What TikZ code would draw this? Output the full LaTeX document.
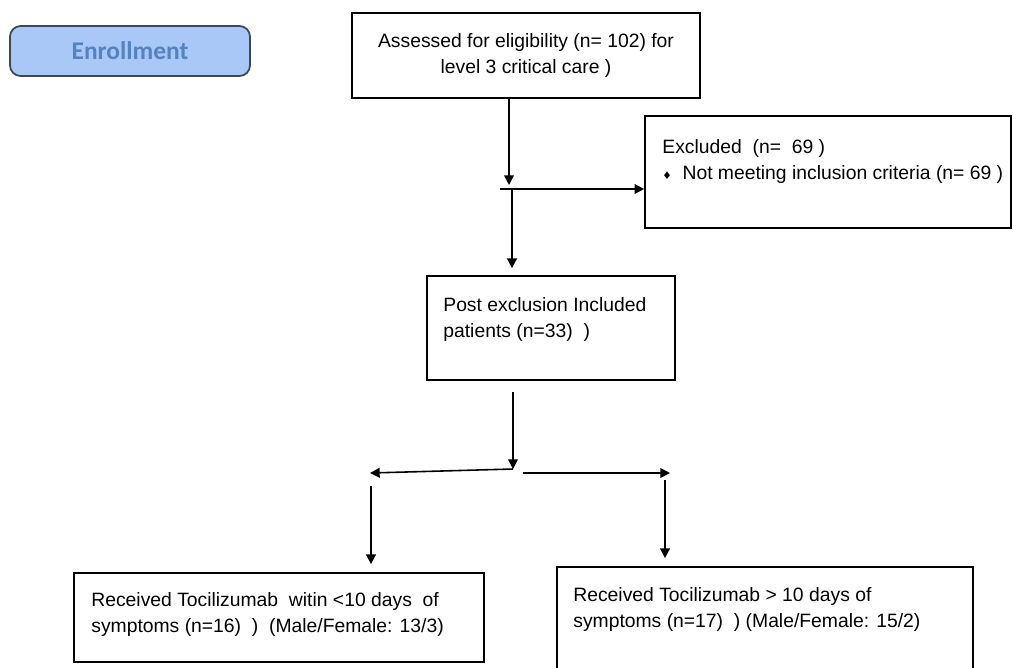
\documentclass[tikz,border=0pt]{standalone}
\usepackage{fontspec}
\setmainfont{Liberation Sans}
\newfontfamily\calfont{Carlito}
\newfontfamily\symfont{DejaVu Sans}
\usepackage{xcolor}
\usetikzlibrary{arrows.meta, positioning}

\definecolor{enrfill}{HTML}{A9C8F8}
\definecolor{enrtext}{HTML}{5583C0}
\definecolor{enrline}{HTML}{3E4650}

\begin{document}
\begin{tikzpicture}[x=0.02cm, y=-0.02cm, >={Triangle[length=5.5pt, width=5.5pt]},
    font=\fontsize{11}{14.8}\selectfont,
    box/.style={draw, line width=1pt, inner sep=0pt},
    boxtext/.style={anchor=north west, align=left, inner sep=0pt},
    flow/.style={->, line width=0.9pt}]

\useasboundingbox (0,0) rectangle (1013,667);

% ── Stage label ─────────────────────────────────────────────────
\node[box, rounded corners=6pt, fill=enrfill, draw=enrline, text=enrtext,
    minimum width=4.8cm, minimum height=1cm,
    font=\calfont\bfseries\fontsize{14.5}{16}\selectfont] (enrol) at (130, 51) {Enrollment};

% ── Boxes ───────────────────────────────────────────────────────
\node[box, minimum width=6.96cm, minimum height=1.7cm, align=center] (assess) at (526, 55.5)
    {Assessed for eligibility (n= 102) for\\level 3 critical care )};

\node[box, minimum width=7.32cm, minimum height=2.24cm] (excl) at (828, 172) {};
\node[boxtext] (excltext) at (662, 139)
    {Excluded\ \ (n=\ \ 69 )\\
    {\symfont\fontsize{6}{7}\selectfont ♦}\ \ Not meeting inclusion criteria (n= 69 )};

\node[box, minimum width=4.96cm, minimum height=2.08cm] (post) at (551, 328) {};
\node[boxtext] (posttext) at (443, 297)
    {Post exclusion Included\\patients (n=33)\ \ )};

\node[box, minimum width=8.2cm, minimum height=1.78cm] (early) at (279, 617.5) {};
\node[boxtext] (earlytext) at (91, 592)
    {Received Tocilizumab\ \ witin <10 days\ \ of\\
    symptoms (n=16)\ \ )\ \ (Male/Female: 13/3)};

\node[box, minimum width=8.32cm, minimum height=2.2cm] (late) at (765, 622) {};
\node[boxtext] (latetext) at (573, 587)
    {Received Tocilizumab > 10 days of\\
    symptoms (n=17)\ \ ) (Male/Female: 15/2)};

% ── Connectors ──────────────────────────────────────────────────
\coordinate (down1) at (509, 185);
\coordinate (split) at (500, 189);
\coordinate (down2) at (512, 189);
\coordinate (fork) at (513, 469);
\coordinate (leftend) at (370, 473);
\coordinate (rightstart) at (523, 473);
\coordinate (rightend) at (670, 473);
\coordinate (leftdown) at (371, 486);
\coordinate (rightdown) at (665, 480);

\draw[flow] (down1 |- assess.south) -- (down1);
\draw[flow] (split) -- (split -| excl.west);
\draw[flow, shorten >=0.14cm] (down2) -- (down2 |- post.north);
\draw[flow, shorten <=0.22cm] (fork |- post.south) -- (fork);
\draw[flow] (fork) -- (leftend);
\draw[flow] (rightstart) -- (rightend);
\draw[flow, shorten >=0.16cm] (leftdown) -- (leftdown |- early.north);
\draw[flow, shorten >=0.16cm] (rightdown) -- (rightdown |- late.north);

\end{tikzpicture}
\end{document}
